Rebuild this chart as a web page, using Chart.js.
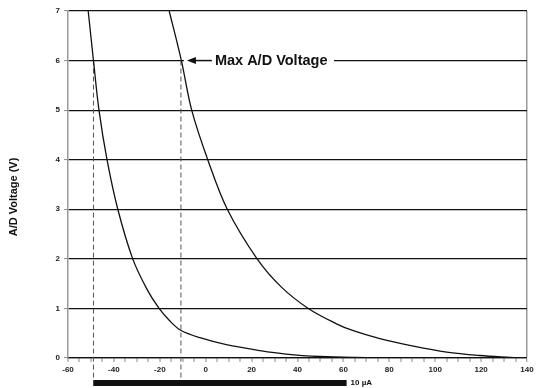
<!DOCTYPE html>
<html>
<head>
<meta charset="utf-8">
<script src="https://cdn.jsdelivr.net/npm/chart.js@4/dist/chart.umd.min.js"></script>
<style>
  html, body { margin: 0; padding: 0; background: #fff; }
  #wrap { width: 541px; height: 388px; }
</style>
</head>
<body>
<div id="wrap"><canvas id="c" width="541" height="388"></canvas></div>
<script>
// Curve 1 (left curve): current (µA) vs A/D voltage (V)
const curve1X = [-51.2, -48.9, -46.5, -43.0, -38.3, -31.8, -25.5, -20.3, -15.5, -10.9, -2.5, 9.0, 23.7, 35, 50, 65, 86];
const curve1Y = [7, 6, 5, 4, 3, 2, 1.38, 1, 0.74, 0.56, 0.41, 0.27, 0.15, 0.08, 0.03, 0.01, 0];
// Curve 2 (right curve)
const curve2X = [-15.9, -10.6, -6.1, 0.9, 9.4, 22.4, 33, 44.7, 57, 64.3, 75.9, 90.5, 105, 119.5, 132.6, 136.5];
const curve2Y = [7, 6, 5, 4, 3, 2, 1.43, 1, 0.69, 0.55, 0.39, 0.24, 0.12, 0.05, 0.01, 0];
// Dashed markers where each curve reaches Max A/D voltage
const markerX = [-48.9, -10.8];
const markerTopY = 6;
const markerBottomY = -0.44;
// 10 µA scale bar
const barStartX = -49;
const barEndX = 61.4;
const barLabel = '10 µA';
const annotationText = 'Max A/D Voltage';
const yTitle = 'A/D Voltage (V)';
const xMin = -60, xMax = 140, xStep = 5, xLabelStep = 20;
const yMin = 0, yMax = 7, yStep = 1;

const toPts = (xs, ys) => xs.map((x, i) => ({x: x, y: ys[i]}));
const curveStyle = {
  borderColor: '#111', borderWidth: 1.3, pointRadius: 0, fill: false,
  tension: 0.35, showLine: true
};
const datasets = [
  Object.assign({data: toPts(curve1X, curve1Y)}, curveStyle),
  Object.assign({data: toPts(curve2X, curve2Y)}, curveStyle)
];
markerX.forEach(mx => {
  datasets.push({
    data: [{x: mx, y: markerTopY}, {x: mx, y: markerBottomY}],
    borderColor: '#555', borderWidth: 1, borderDash: [5, 3],
    pointRadius: 0, showLine: true, clip: false, fill: false, tension: 0
  });
});

const FONT = '"Liberation Sans", Arial, sans-serif';

const annot = {
  id: 'annot',
  afterDatasetsDraw(chart) {
    const ctx = chart.ctx;
    const xs = chart.scales.x, ys = chart.scales.y;
    const y6 = ys.getPixelForValue(markerTopY);
    const tipX = xs.getPixelForValue(markerX[1]) + 6;
    ctx.save();
    // white gap behind arrow / text
    ctx.fillStyle = '#fff';
    ctx.fillRect(tipX - 3, y6 - 2, 150, 4);
    // arrow line
    ctx.strokeStyle = '#111';
    ctx.lineWidth = 1.5;
    ctx.beginPath();
    ctx.moveTo(tipX + 5, y6);
    ctx.lineTo(tipX + 25, y6);
    ctx.stroke();
    // arrowhead
    ctx.fillStyle = '#111';
    ctx.beginPath();
    ctx.moveTo(tipX, y6);
    ctx.lineTo(tipX + 9, y6 - 3.5);
    ctx.lineTo(tipX + 9, y6 + 3.5);
    ctx.closePath();
    ctx.fill();
    // text
    ctx.font = 'bold 14.5px ' + FONT;
    ctx.textBaseline = 'middle';
    ctx.textAlign = 'left';
    ctx.fillText(annotationText, tipX + 28, y6 + 0.5);
    // 10 µA bar
    const bx0 = xs.getPixelForValue(barStartX);
    const bx1 = xs.getPixelForValue(barEndX);
    ctx.fillRect(bx0, 380, bx1 - bx0, 6);
    ctx.font = 'bold 8px ' + FONT;
    ctx.fillText(barLabel, bx1 + 4, 383);
    // y axis title
    ctx.translate(14, 197);
    ctx.rotate(-Math.PI / 2);
    ctx.textAlign = 'center';
    ctx.font = 'bold 11px ' + FONT;
    ctx.fillText(yTitle, 0, 0);
    ctx.restore();
  }
};

new Chart(document.getElementById('c'), {
  type: 'scatter',
  data: { datasets: datasets },
  options: {
    responsive: false,
    animation: false,
    layout: { padding: { top: 11, right: 14, bottom: 0, left: 0 } },
    plugins: { legend: { display: false }, tooltip: { enabled: false } },
    scales: {
      x: {
        type: 'linear', min: xMin, max: xMax,
        afterFit(s) { s.height = 30; },
        border: { display: true, color: '#111', width: 1.3 },
        grid: {
          drawOnChartArea: true,
          color: c => (c.tick && c.tick.value === xMax) ? '#999' : 'rgba(0,0,0,0)',
          lineWidth: c => (c.tick && c.tick.value === xMax) ? 1.5 : 0,
          tickColor: '#888', tickLength: 4, tickWidth: 1
        },
        ticks: {
          stepSize: xStep, autoSkip: false, maxRotation: 0, padding: 3,
          color: '#222', font: { family: FONT, size: 8, weight: 'bold' },
          callback: v => (v % xLabelStep === 0 ? v : '')
        }
      },
      y: {
        type: 'linear', min: yMin, max: yMax,
        afterFit(s) { s.width = 68; },
        border: { display: true, color: '#999', width: 1.5 },
        grid: {
          color: '#111', lineWidth: 1.2,
          tickColor: '#888', tickLength: 4, tickWidth: 1
        },
        ticks: {
          stepSize: yStep, padding: 4,
          color: '#222', font: { family: FONT, size: 8, weight: 'bold' }
        }
      }
    }
  },
  plugins: [annot]
});
</script>
</body>
</html>
